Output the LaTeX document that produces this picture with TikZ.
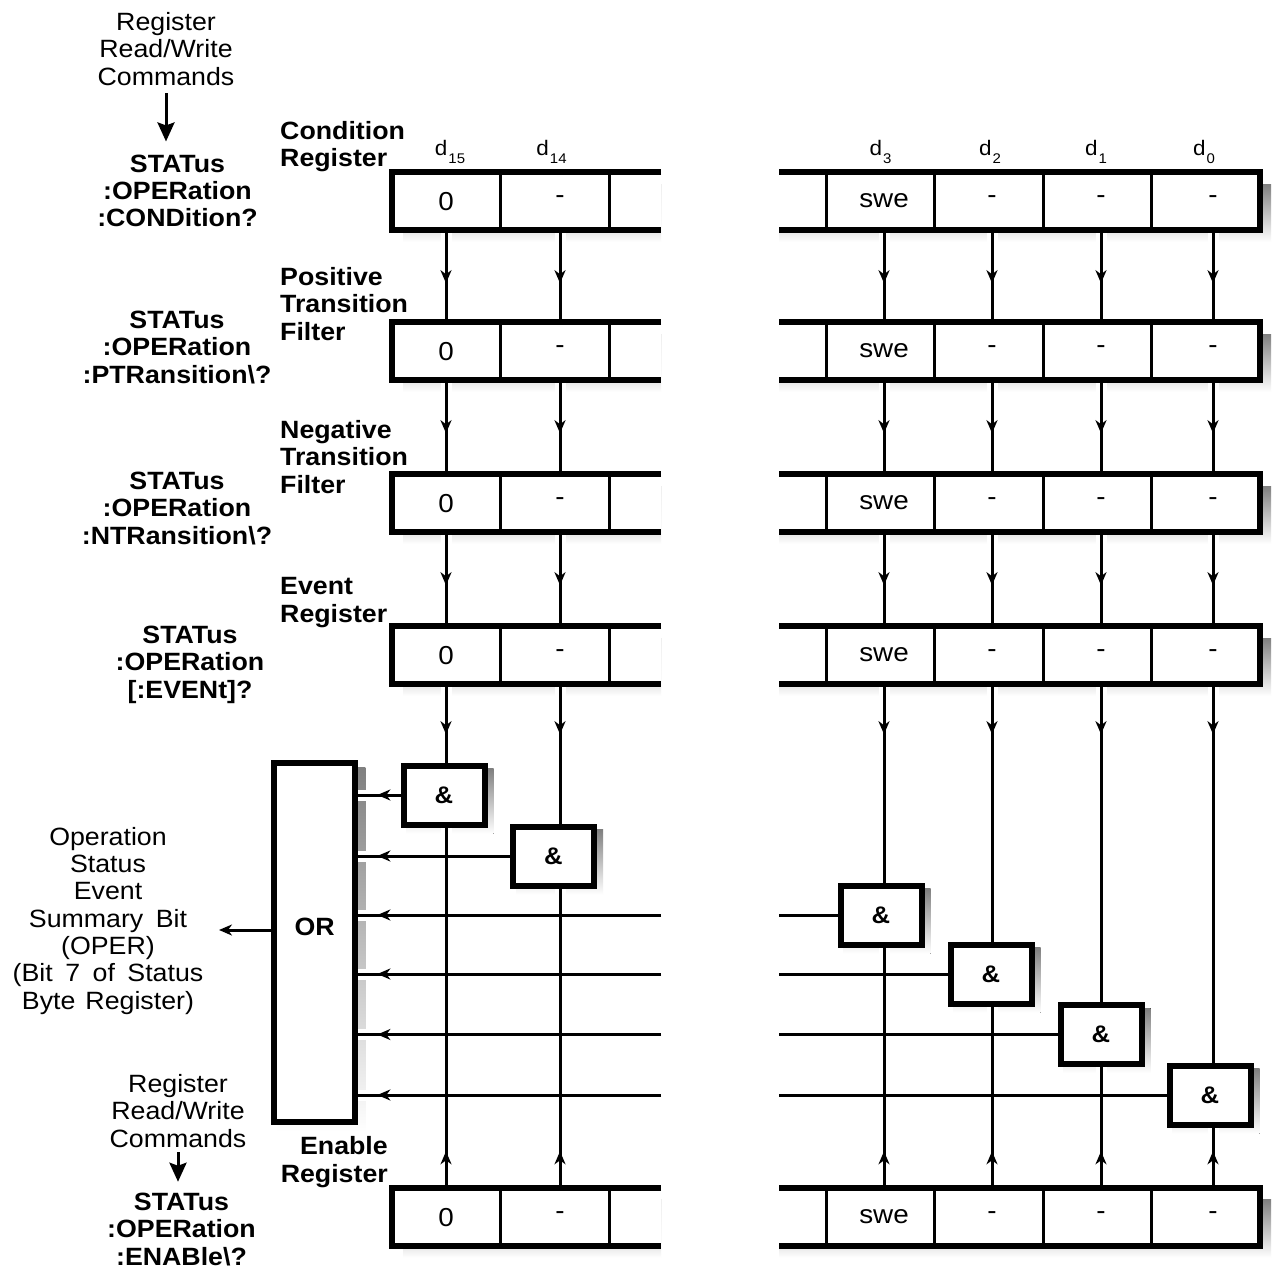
\documentclass[tikz,border=0pt]{standalone}
\usepackage{fontspec}
\setmainfont{Liberation Sans}[FakeStretch=1.07]
\usetikzlibrary{arrows.meta,positioning,calc,decorations.markings}
\definecolor{shade}{HTML}{BDBDBD}
\pgfdeclarelayer{shadow}
\pgfdeclarelayer{halo}
\pgfsetlayers{shadow,halo,main}
\newcommand\bitoff{\raisebox{7pt}{-}}
\newcommand\subbit[1]{\hspace{1pt}\raisebox{-8pt}{\fontsize{14}{14}\selectfont #1}}

\begin{document}
\begin{tikzpicture}[x=1pt, y=-1pt, line join=miter,
  lbl/.style={inner sep=0pt, anchor=base, align=center, font=\fontsize{25}{27.3}\selectfont},
  cmd/.style={lbl, font=\bfseries\fontsize{25}{27.3}\selectfont},
  regname/.style={cmd, anchor=base west, align=left},
  bitcell/.style={inner sep=0pt, minimum height=58pt, text height=19pt, text depth=0pt, font=\fontsize{26}{26}\selectfont},
  bithead/.style={inner sep=0pt, anchor=base, font=\fontsize{21}{21}\selectfont},
  gate/.style={draw, line width=6pt, fill=white, minimum width=81pt, minimum height=59pt, inner sep=0pt, font=\bfseries\fontsize{24}{24}\selectfont},
  frame/.style={line width=6pt, fill=white},
  divider/.style={line width=3pt},
  wire/.style={line width=3pt},
  halo/.style={white, line width=11pt},
  tipat/.style={postaction={decorate}, decoration={markings, mark=at position #1 with {\arrow{wtip}}}},
  wtip/.tip={Stealth[length=13pt, width=11pt, inset=4pt]},
  btip/.tip={Stealth[length=19pt, width=17pt, inset=3pt]}]
\useasboundingbox (0,0) rectangle (1278,1272);
\begin{pgfonlayer}{shadow}
  \fill[white] (0,0) rectangle (1278,1272);
\end{pgfonlayer}

\node[lbl] (rw1) at (166,85) {Register\\Read/Write\\Commands};
\node[cmd] (q1) at (177.5,226.7) {STATus\\:OPERation\\:CONDition?};
\node[cmd] (q2) at (177,383) {STATus\\:OPERation\\:PTRansition\textbackslash?};
\node[cmd] (q3) at (177,544) {STATus\\:OPERation\\:NTRansition\textbackslash?};
\node[cmd] (q4) at (190,698) {STATus\\:OPERation\\{[}:EVENt]?};
\node[lbl] (rw2) at (178,1147) {Register\\Read/Write\\Commands};
\node[cmd] (q5) at (181.5,1265) {STATus\\:OPERation\\:ENABle\textbackslash?};
\node[lbl] (opsum) at (108,1009) {Operation\\Status\\Event\\Summary\hspace{.5em}Bit\\(OPER)\\(Bit\hspace{.5em}7\hspace{.5em}of\hspace{.5em}Status\\Byte\hspace{.4em}Register)};

\node[regname] (condname) at (280,166.7) {Condition\\Register};
\node[regname] (ptfname) at (280,340) {Positive\\Transition\\Filter};
\node[regname] (ntfname) at (280,493) {Negative\\Transition\\Filter};
\node[regname] (evname) at (280,622) {Event\\Register};
\node[regname, anchor=base east, align=right] (enname) at (388,1182) {Enable\\Register};

\foreach \k/\xh in {15/450, 14/551.5, 3/880.5, 2/990, 1/1096, 0/1204}
  \node[bithead] (h\k) at (\xh,155) {d\subbit{\k}};

\foreach \r/\yc in {c/201, p/351, n/503, e/655, en/1216.5} {
  \begin{pgfonlayer}{shadow}
    \fill[shade] (403,\yc-17) rectangle (661,\yc+41);
    \fill[shade] (779,\yc-17) rectangle (1271,\yc+41);
  \end{pgfonlayer}
  \draw[frame] (661,\yc-29) -- (392,\yc-29) -- (392,\yc+29) -- (661,\yc+29);
  \draw[frame] (779,\yc-29) -- (1260,\yc-29) -- (1260,\yc+29) -- (779,\yc+29);
  \foreach \xd in {500.5, 609, 826, 934.5, 1043, 1151}
    \draw[divider] (\xd,\yc-29) -- (\xd,\yc+29);
  \foreach \k/\xb/\v in {15/446/0, 14/560/\bitoff, 3/884/\raisebox{3pt}{swe}, 2/992/\bitoff, 1/1101/\bitoff, 0/1213/\bitoff}
    \node[bitcell] (\r\k) at (\xb,\yc) {\v};
}

\foreach \g/\xg/\yg in {g1/444/795, g2/553.5/856, g3/881/915, g4/991/974, g5/1101/1034.5, g6/1210/1095} {
  \node[gate] (\g) at (\xg,\yg) {\&};
  \begin{pgfonlayer}{shadow}
    \fill[shade] ($(\g.south west)+(6,6)$) rectangle ($(\g.north east)+(6,6)$);
  \end{pgfonlayer}
}
\node[gate, minimum width=81.5pt, minimum height=359pt, font=\bfseries\fontsize{25}{25}\selectfont, text height=18pt, text depth=33pt] (or) at (314.6,942.5) {OR};
\begin{pgfonlayer}{shadow}
  \fill[shade] ($(or.south west)+(7,7)$) rectangle ($(or.north east)+(7,7)$);
\end{pgfonlayer}

\coordinate (brkL) at (661,0);
\coordinate (brkR) at (779,0);
\coordinate (operout) at (219,930);

\foreach \a/\b in {c/p, p/n, n/e}
  \foreach \k in {15,14,3,2,1,0} {
    \begin{pgfonlayer}{halo}
      \draw[halo] (\a\k.south) -- (\b\k.north);
    \end{pgfonlayer}
    \draw[wire, tipat=53pt] (\a\k.south) -- (\b\k.north);
  }

\foreach \k/\g in {15/g1, 14/g2, 3/g3, 2/g4, 1/g5, 0/g6} {
  \begin{pgfonlayer}{halo}
    \draw[halo] (e\k.south) -- (e\k.south |- \g.north);
    \draw[halo] (en\k.north) -- (en\k.north |- \g.south);
  \end{pgfonlayer}
  \draw[wire, tipat=50pt] (e\k.south) -- (e\k.south |- \g.north);
  \draw[wire, tipat=36pt] (en\k.north) -- (en\k.north |- \g.south);
}

\foreach \g in {g1, g2} {
  \begin{pgfonlayer}{halo}
    \draw[halo] (\g.west) -- (or.east |- \g.west);
  \end{pgfonlayer}
  \draw[wire, tipat=-19pt] (\g.west) -- (or.east |- \g.west);
}
\foreach \g in {g3, g4, g5, g6} {
  \begin{pgfonlayer}{halo}
    \draw[halo] (brkL |- \g.west) -- (or.east |- \g.west);
  \end{pgfonlayer}
  \draw[wire] (\g.west) -- (brkR |- \g.west);
  \draw[wire, tipat=-19pt] (brkL |- \g.west) -- (or.east |- \g.west);
}

\draw[wire, -{wtip}] (or.west |- operout) -- (operout);
\draw[wire, -{btip}, shorten <=8pt, shorten >=13pt] (rw1.south) -- (rw1.south |- q1.north);
\draw[wire, -{btip}, shorten <=5pt, shorten >=11pt] (rw2.south) -- (rw2.south |- q5.north);
\end{tikzpicture}
\end{document}
